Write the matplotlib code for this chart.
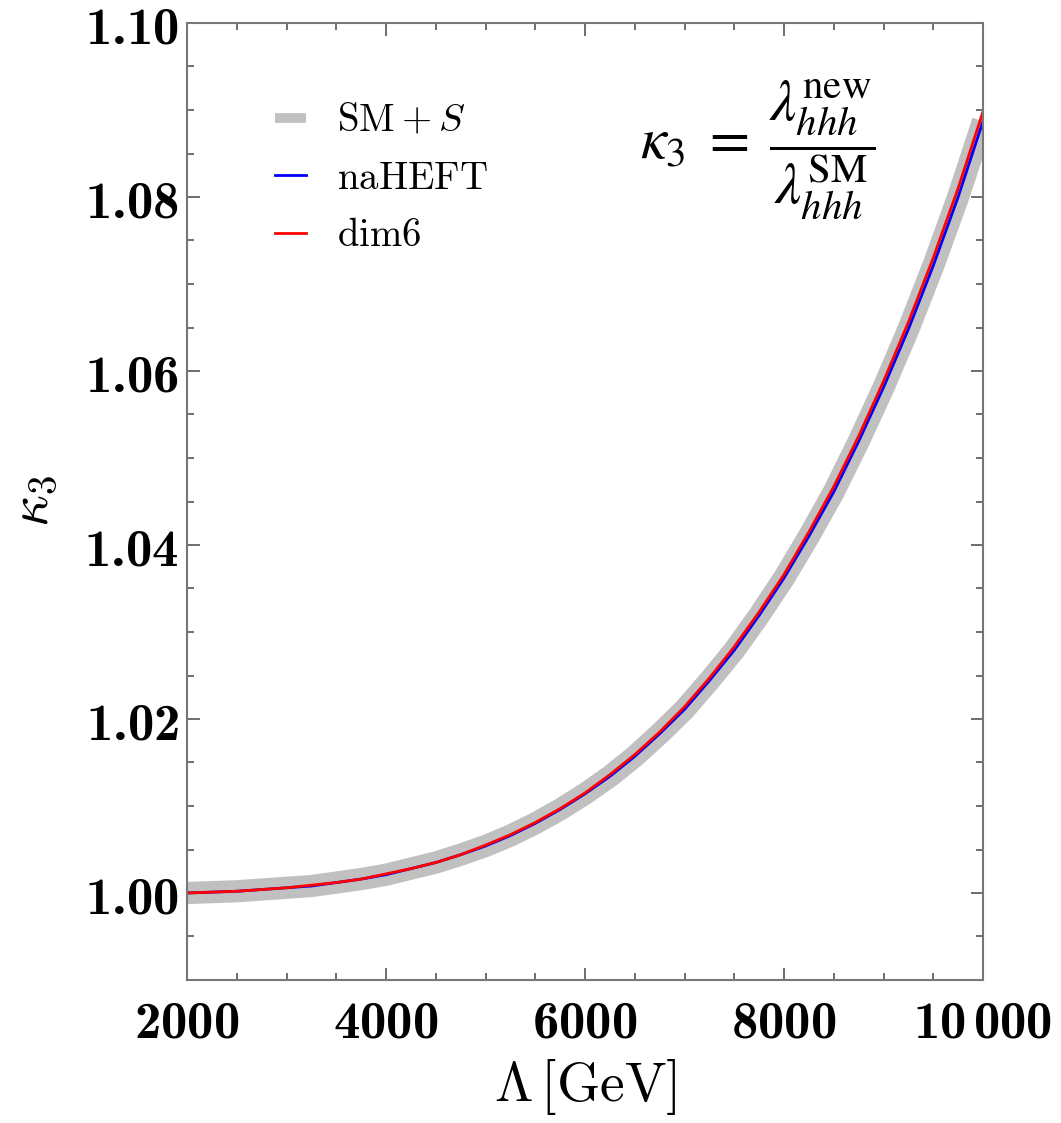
import matplotlib
matplotlib.use("Agg")
import matplotlib.pyplot as plt
import numpy as np

# values
lam = [2000, 2250, 2500, 2750, 3000, 3250, 3500, 3750, 4000, 4250, 4500,
       4750, 5000, 5250, 5500, 5750, 6000, 6250, 6500, 6750, 7000, 7250,
       7500, 7750, 8000, 8250, 8500, 8750, 9000, 9250, 9500, 9750, 10000]
k3_dim6 = [1.0000, 1.0001, 1.0002, 1.0004, 1.0006, 1.0009, 1.0012, 1.0016,
           1.0022, 1.0028, 1.0035, 1.0044, 1.0055, 1.0067, 1.0081, 1.0097,
           1.0115, 1.0136, 1.0159, 1.0185, 1.0214, 1.0247, 1.0283, 1.0323,
           1.0366, 1.0415, 1.0467, 1.0525, 1.0588, 1.0656, 1.0730, 1.0810,
           1.0898]
k3_naheft = [1.0000, 1.0001, 1.0002, 1.0004, 1.0006, 1.0008, 1.0012, 1.0016,
             1.0021, 1.0028, 1.0035, 1.0044, 1.0054, 1.0066, 1.0080, 1.0096,
             1.0114, 1.0134, 1.0157, 1.0183, 1.0211, 1.0244, 1.0279, 1.0319,
             1.0362, 1.0410, 1.0461, 1.0519, 1.0581, 1.0648, 1.0721, 1.0800,
             1.0887]
k3_sms = [1.0000, 1.0001, 1.0002, 1.0004, 1.0006, 1.0008, 1.0012, 1.0016,
          1.0021, 1.0028, 1.0035, 1.0044, 1.0054, 1.0066, 1.0080, 1.0096,
          1.0114, 1.0134, 1.0157, 1.0183, 1.0211, 1.0244, 1.0279, 1.0319,
          1.0362, 1.0410, 1.0461, 1.0519, 1.0581, 1.0648, 1.0721, 1.0800,
          1.0887]

xticks = [2000, 4000, 6000, 8000, 10000]
xtick_labels = ['2000', '4000', '6000', '8000', r'10\,000']
yticks = [1.00, 1.02, 1.04, 1.06, 1.08, 1.10]
ytick_labels = ['1.00', '1.02', '1.04', '1.06', '1.08', '1.10']

plt.rcParams['mathtext.fontset'] = 'cm'
# bold Computer Modern for the tick labels (used through math_fontfamily='custom')
plt.rcParams['mathtext.rm'] = 'cmb10'
plt.rcParams['mathtext.bf'] = 'cmb10'
plt.rcParams['mathtext.it'] = 'cmb10'

fig = plt.figure(figsize=(10.61, 11.23), dpi=100)
ax = fig.add_axes([187 / 1061, 143 / 1123, 796 / 1061, 957 / 1123])

ax.plot(lam, k3_sms, color='#c0c0c0', lw=16, solid_capstyle='butt',
        label=r'$\mathrm{SM}+S$')
ax.plot(lam, k3_naheft, color='blue', lw=2, label=r'$\mathrm{naHEFT}$')
ax.plot(lam, k3_dim6, color='red', lw=2, label=r'$\mathrm{dim6}$')

ax.set_xlim(2000, 10000)
ax.set_ylim(0.99, 1.10)

ax.set_xticks(xticks)
ax.set_xticklabels(['$' + s + '$' for s in xtick_labels])
ax.set_yticks(yticks)
ax.set_yticklabels(['$' + s + '$' for s in ytick_labels])
ax.set_xticks(np.arange(2000, 10001, 500), minor=True)
ax.set_yticks(np.arange(0.99, 1.1001, 0.005), minor=True)
for t in ax.get_xticklabels() + ax.get_yticklabels():
    t.set_math_fontfamily('custom')

ax.tick_params(which='both', direction='in', top=True, right=True,
               color='#555555', width=1.2)
ax.tick_params(which='major', length=9)
ax.tick_params(which='minor', length=5)
ax.tick_params(axis='x', labelsize=38, pad=12)
ax.tick_params(axis='y', labelsize=38, pad=6)
for sp in ax.spines.values():
    sp.set_color('#777777')
    sp.set_linewidth(1.5)

ax.set_xlabel(r'$\Lambda\,[\mathrm{GeV}]$', fontsize=40, labelpad=6)
ax.set_ylabel(r'$\kappa_3$', fontsize=40, labelpad=18)

leg = ax.legend(loc='upper left', bbox_to_anchor=(88 / 796, 0.918),
                frameon=False, fontsize=28, handlelength=0.8,
                handletextpad=0.8, labelspacing=0.5, borderpad=0,
                borderaxespad=0)
leg.legend_handles[0].set_linewidth(7)

fig.text(640 / 1061, 1 - 150 / 1123,
         r'$\kappa_3\;=\;\dfrac{\lambda_{hhh}^{\mathrm{new}}}{\lambda_{hhh}^{\mathrm{SM}}}$',
         fontsize=42, math_fontfamily='stix', ha='left', va='center')

fig.savefig('out.png', dpi=100)
